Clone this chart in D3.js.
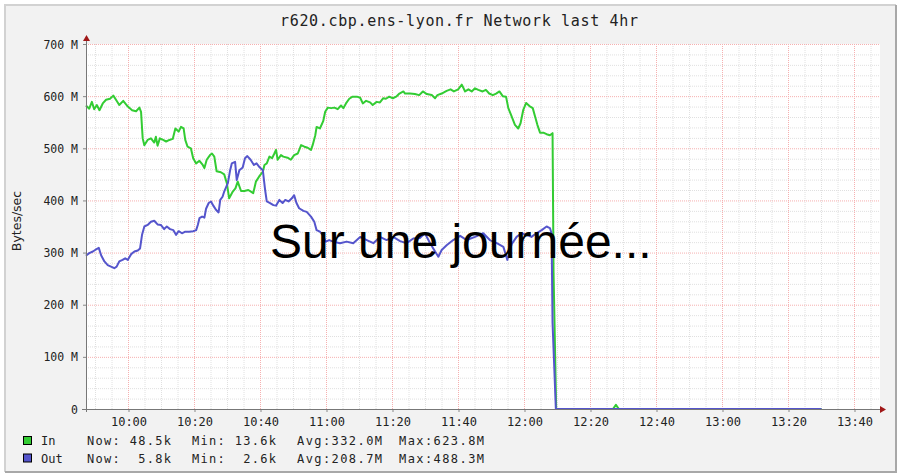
<!DOCTYPE html>
<html>
<head>
<meta charset="utf-8">
<script src="https://cdn.jsdelivr.net/npm/d3@7/dist/d3.min.js"></script>
<style>
  body { margin: 0; background: #fff; }
  text { font-family: "DejaVu Sans Mono", monospace; }
</style>
</head>
<body>
<svg id="chart"></svg>
<script>
// chart size
const width = 901;
const height = 474;

// minutes relative to 10:00, values in MB/s
const inSeries = [
  [-12.9, 582], [-11.9, 576], [-11.1, 589], [-10.4, 575], [-9.6, 583], [-8.8, 573],
  [-7.8, 586], [-6.8, 593], [-5.6, 595], [-4.6, 601], [-3.6, 591], [-2.8, 583],
  [-1.6, 591], [-0.2, 580], [1.1, 573], [2.3, 571], [3.3, 578], [3.8, 570],
  [4.3, 519], [4.8, 506], [5.8, 516], [6.8, 519], [7.8, 511], [8.3, 522],
  [8.8, 505], [9.5, 519], [10.5, 516], [11.4, 513], [12.4, 516], [13.4, 518],
  [14.2, 538], [15.2, 532], [15.9, 541], [16.7, 538], [17.2, 516], [17.9, 503],
  [18.9, 500], [19.6, 481], [20.5, 471], [21.5, 476], [22.5, 468], [23.0, 462],
  [23.7, 478], [24.7, 487], [25.3, 490], [26.0, 484], [26.7, 456], [28.0, 454],
  [29.0, 450], [29.8, 433], [30.5, 404], [31.6, 417], [32.4, 423], [33.1, 436],
  [34.1, 418], [35.1, 418], [36.3, 420], [37.1, 417], [37.8, 414], [38.6, 436],
  [39.6, 446], [40.7, 455], [41.2, 468], [41.9, 471], [42.7, 484], [43.5, 481],
  [44.2, 490], [44.7, 497], [45.2, 478], [46.2, 487], [46.9, 484], [48.2, 482],
  [49.2, 478], [50.2, 487], [51.3, 490], [52.3, 506], [53.3, 503], [54.3, 501],
  [55.3, 497], [55.8, 506], [56.6, 525], [57.0, 541], [58.0, 538], [59.0, 552],
  [59.6, 570], [60.4, 578], [61.4, 577], [62.4, 578], [63.4, 575], [64.4, 582],
  [65.1, 577], [65.9, 586], [66.9, 595], [67.9, 599], [69.2, 599], [70.2, 597],
  [71.0, 586], [72.0, 591], [73.2, 588], [74.0, 583], [75.2, 589], [76.2, 588],
  [77.2, 596], [78.0, 595], [79.0, 599], [80.1, 596], [81.1, 599], [82.1, 605],
  [83.3, 609], [83.8, 605], [85.3, 605], [86.8, 604], [88.1, 602], [89.2, 609],
  [90.4, 604], [91.9, 602], [92.9, 596], [93.6, 602], [94.9, 605], [96.4, 610],
  [97.6, 613], [98.6, 609], [99.9, 613], [101.0, 622], [102.0, 609], [103.0, 613],
  [104.0, 609], [105.0, 615], [106.0, 612], [107.3, 609], [108.3, 612], [109.3, 605],
  [110.4, 602], [111.4, 605], [112.4, 609], [113.4, 600], [114.4, 599], [115.1, 577],
  [116.1, 561], [117.1, 545], [118.1, 538], [118.8, 548], [119.6, 573], [120.5, 587],
  [121.5, 581], [122.5, 577], [123.2, 561], [123.9, 545], [124.7, 530], [125.7, 530],
  [126.7, 527], [127.7, 525], [128.5, 529], [128.8, 262], [129.6, 0], [146.8, 0],
  [147.7, 8], [148.6, 0], [210, 0]
];

const outSeries = [
  [-12.9, 294], [-11.9, 299], [-10.8, 302], [-10.1, 305], [-9.0, 309], [-8.3, 295],
  [-7.3, 283], [-6.3, 276], [-5.3, 273], [-4.3, 270], [-3.6, 273], [-2.8, 283],
  [-1.8, 286], [-1.0, 289], [-0.2, 286], [0.8, 297], [1.8, 302], [2.8, 304],
  [3.5, 308], [4.1, 334], [4.8, 350], [5.8, 353], [6.8, 359], [7.8, 361],
  [8.8, 354], [9.8, 353], [10.8, 345], [11.6, 350], [12.6, 345], [13.6, 343],
  [14.4, 334], [15.2, 341], [16.2, 337], [17.2, 340], [18.4, 340], [19.6, 341],
  [20.5, 343], [21.0, 353], [21.5, 366], [22.3, 369], [23.0, 367], [23.5, 384],
  [24.3, 395], [25.0, 398], [25.7, 390], [26.5, 382], [27.3, 377], [27.8, 401],
  [28.5, 407], [29.0, 417], [30.1, 433], [30.8, 458], [31.3, 471], [32.3, 474],
  [32.8, 439], [33.6, 458], [34.6, 463], [35.3, 481], [36.0, 485], [37.0, 478],
  [38.0, 468], [38.8, 471], [39.8, 463], [40.7, 458], [41.4, 420], [41.9, 398],
  [42.9, 395], [43.9, 391], [44.7, 390], [45.7, 401], [46.7, 395], [47.5, 401],
  [48.5, 398], [49.5, 404], [50.2, 410], [50.9, 395], [51.7, 385], [53.0, 380],
  [54.0, 378], [55.3, 369], [56.3, 359], [57.0, 343], [58.0, 340], [58.8, 334],
  [59.8, 321], [60.8, 324], [62.0, 321], [64.1, 318], [66.1, 321], [68.1, 318],
  [70.2, 330], [72.2, 324], [74.2, 318], [76.2, 330], [78.2, 324], [80.2, 330],
  [82.3, 322], [84.3, 318], [86.3, 327], [88.3, 328], [89.8, 337], [91.4, 318],
  [92.9, 302], [93.9, 292], [94.9, 305], [96.4, 314], [98.4, 324], [100.5, 332],
  [102.5, 324], [105.0, 330], [107.5, 337], [109.5, 324], [111.6, 318], [113.6, 311],
  [114.8, 286], [116.1, 316], [117.6, 330], [119.1, 337], [120.6, 334], [122.1, 330],
  [123.6, 337], [125.2, 343], [126.7, 350], [127.7, 347], [128.2, 337], [128.5, 165],
  [129.5, 0], [210, 0]
];

const xTickMinutes = [0, 20, 40, 60, 80, 100, 120, 140, 160, 180, 200, 220];
const xTickLabels = ["10:00", "10:20", "10:40", "11:00", "11:20", "11:40",
                     "12:00", "12:20", "12:40", "13:00", "13:20", "13:40"];
const yTickValues = [0, 100, 200, 300, 400, 500, 600, 700];
const yTickLabels = ["0", "100 M", "200 M", "300 M", "400 M", "500 M", "600 M", "700 M"];

const legendNames = ["In", "Out"];
const legendNow = ["Now: 48.5k", "Now:  5.8k"];
const legendMin = ["Min: 13.6k", "Min:  2.6k"];
const legendAvg = ["Avg:332.0M", "Avg:208.7M"];
const legendMax = ["Max:623.8M", "Max:488.3M"];

const colors = ["#33cc33", "#5555cc"];

const svg = d3.select("#chart")
    .attr("width", width)
    .attr("height", height);

// plot area
const plotLeft = 86, plotRight = 878, plotTop = 44, plotBottom = 409;

const x = d3.scaleLinear().domain([-12.88, 227.12]).range([plotLeft, plotRight]);
const y = d3.scaleLinear().domain([0, 700]).range([plotBottom, plotTop]);

// graph background with rrdtool-like frame
svg.append("rect").attr("x", 5).attr("y", 5).attr("width", 891).attr("height", 467)
    .attr("fill", "#f2f2f2");
svg.append("path").attr("d", "M5,472V5H896").attr("fill", "none")
    .attr("stroke", "#d2d2d2").attr("stroke-width", 2);
svg.append("path").attr("d", "M5,472H896V5").attr("fill", "none")
    .attr("stroke", "#a8a8a8").attr("stroke-width", 2);

svg.append("rect").attr("x", plotLeft).attr("y", plotTop).attr("width", plotRight - plotLeft + 2)
    .attr("height", plotBottom - plotTop).attr("fill", "#fff");

// minor grid
const grid = svg.append("g");
const minorColor = "#e0e0e0", majorColor = "#f6b0b0";
d3.range(-10, 228, 5).filter(m => m % 20 !== 0).forEach(m => {
    grid.append("line").attr("x1", x(m)).attr("x2", x(m)).attr("y1", plotTop).attr("y2", plotBottom)
        .attr("stroke", minorColor).attr("stroke-dasharray", "1,1");
});
d3.range(20, 700, 20).filter(v => v % 100 !== 0).forEach(v => {
    grid.append("line").attr("x1", plotLeft).attr("x2", plotRight + 2)
        .attr("y1", y(v) + 0.5).attr("y2", y(v) + 0.5)
        .attr("stroke", minorColor).attr("stroke-dasharray", "1,1");
});
// major grid
xTickMinutes.forEach(m => {
    grid.append("line").attr("x1", x(m)).attr("x2", x(m)).attr("y1", plotTop).attr("y2", plotBottom)
        .attr("stroke", majorColor).attr("stroke-dasharray", "1,1");
});
yTickValues.slice(1).forEach(v => {
    grid.append("line").attr("x1", plotLeft).attr("x2", plotRight + 2)
        .attr("y1", y(v) + 0.5).attr("y2", y(v) + 0.5)
        .attr("stroke", majorColor).attr("stroke-dasharray", "1,1");
});

// series
const line = d3.line().x(d => x(d[0])).y(d => y(d[1]));
[inSeries, outSeries].forEach((s, i) => {
    svg.append("path").datum(s).attr("d", line)
        .attr("fill", "none").attr("stroke", colors[i]).attr("stroke-width", 2)
        .attr("stroke-linejoin", "round");
});

// axes
const xAxis = svg.append("g").attr("transform", `translate(0,${plotBottom})`)
    .call(d3.axisBottom(x).tickValues(xTickMinutes).tickFormat((d, i) => xTickLabels[i])
        .tickSize(3).tickPadding(5));
xAxis.select(".domain").remove();
xAxis.selectAll("line").attr("stroke", "#888");
xAxis.selectAll("text").attr("font-size", 12).attr("font-family", "DejaVu Sans Mono")
    .attr("fill", "#222");

const yAxis = svg.append("g").attr("transform", `translate(${plotLeft},0)`)
    .call(d3.axisLeft(y).tickValues(yTickValues).tickFormat((d, i) => yTickLabels[i])
        .tickSize(3).tickPadding(5));
yAxis.select(".domain").remove();
yAxis.selectAll("line").attr("stroke", "#888");
yAxis.selectAll("text").attr("font-size", 11.5).attr("font-family", "DejaVu Sans Mono")
    .attr("fill", "#222").attr("dy", "0.35em");

svg.append("line").attr("x1", 82).attr("x2", plotRight + 2)
    .attr("y1", plotBottom + 0.5).attr("y2", plotBottom + 0.5)
    .attr("stroke", "#777");
svg.append("line").attr("x1", plotLeft + 0.5).attr("x2", plotLeft + 0.5)
    .attr("y1", plotBottom + 3).attr("y2", plotTop - 5)
    .attr("stroke", "#777");
// arrows
svg.append("path")
    .attr("d", `M${plotRight + 2},${plotBottom - 3}L${plotRight + 8},${plotBottom + 0.5}L${plotRight + 2},${plotBottom + 4}Z`)
    .attr("fill", "#a01818");
svg.append("path")
    .attr("d", `M${plotLeft - 3},${plotTop - 3}L${plotLeft + 0.5},${plotTop - 9}L${plotLeft + 4},${plotTop - 3}Z`)
    .attr("fill", "#a01818");

// title
svg.append("text").attr("x", 280).attr("y", 26).attr("font-size", 15).attr("fill", "#222")
    .attr("textLength", 358).attr("lengthAdjust", "spacing")
    .text("r620.cbp.ens-lyon.fr Network last 4hr");

// y label
svg.append("text").attr("transform", "translate(21,221) rotate(-90)")
    .attr("text-anchor", "middle").attr("font-size", 12.5).attr("fill", "#222")
    .style("font-family", "'DejaVu Sans', sans-serif")
    .text("Bytes/sec");

// legend
const legend = svg.append("g");
legendNames.forEach((name, i) => {
    const base = 445 + i * 17.5;
    legend.append("rect").attr("x", 23.5).attr("y", base - 8.5).attr("width", 8).attr("height", 8)
        .attr("fill", colors[i]).attr("stroke", "#000");
    legend.append("text").attr("x", 41).attr("y", base).attr("font-size", 12).attr("fill", "#222")
        .text(name);
    [[legendNow, 87, 84], [legendMin, 192, 84], [legendAvg, 297, 85], [legendMax, 399, 85]]
        .forEach(([arr, px, len]) => {
            legend.append("text").attr("x", px).attr("y", base).attr("font-size", 12)
                .attr("fill", "#222")
                .attr("textLength", len).attr("lengthAdjust", "spacing")
                .style("white-space", "pre").text(arr[i]);
        });
});

// overlay caption
svg.append("text").attr("x", 270).attr("y", 258).attr("font-size", 48)
    .style("font-family", "'Liberation Sans', Arial, sans-serif").attr("fill", "#000")
    .text("Sur une journée...");
</script>
</body>
</html>
